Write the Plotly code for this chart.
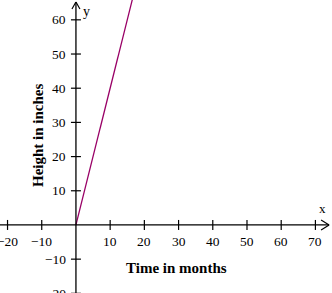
import plotly.graph_objects as go

# Data
line_x = [0, 17]
line_y = [0, 68]
x_ticks = [-20, -10, 10, 20, 30, 40, 50, 60, 70]
y_ticks = [-20, -10, 10, 20, 30, 40, 50, 60]
x_title = "Time in months"
y_title = "Height in inches"

X_RANGE = [-22.2, 74.85]
Y_RANGE = [-19.9, 65.8]
X_END = 74.0
Y_END = 65.2
W, H = 332, 293
PX_Y = H / (Y_RANGE[1] - Y_RANGE[0])
SERIF = "Liberation Serif, Times New Roman, serif"

fig = go.Figure()
fig.add_trace(go.Scatter(x=line_x, y=line_y, mode="lines",
                         line=dict(color="#990066", width=1.3),
                         hoverinfo="skip", showlegend=False))

shapes = []
shapes.append(dict(type="line", xref="x", yref="y", x0=X_RANGE[0], x1=X_END, y0=0, y1=0,
                   line=dict(color="black", width=1.3)))
shapes.append(dict(type="line", xref="x", yref="y", x0=0, x1=0, y0=Y_RANGE[0], y1=Y_END,
                   line=dict(color="black", width=1.3)))
for dx0, dy0 in [(-8, 5), (-8, -5)]:
    shapes.append(dict(type="line", xref="x", yref="y", xsizemode="pixel", ysizemode="pixel",
                       xanchor=X_END, yanchor=0, x0=dx0, y0=dy0, x1=0, y1=0,
                       line=dict(color="black", width=1.2)))
for dx0, dy0 in [(-4, -7), (4, -7)]:
    shapes.append(dict(type="line", xref="x", yref="y", xsizemode="pixel", ysizemode="pixel",
                       xanchor=0, yanchor=Y_END, x0=dx0, y0=dy0, x1=0, y1=0,
                       line=dict(color="black", width=1.2)))

annotations = []
def fmt(v):
    return ("\u2212" + str(-v)) if v < 0 else str(v)

for t in x_ticks:
    shapes.append(dict(type="line", xref="x", yref="y", xsizemode="pixel", ysizemode="pixel",
                       xanchor=t, yanchor=0, x0=0, x1=0, y0=-5, y1=5,
                       line=dict(color="black", width=1.2)))
    annotations.append(dict(x=t, y=0, xref="x", yref="y", text=fmt(t), showarrow=False,
                            yshift=-17, font=dict(family=SERIF, size=13.5, color="black")))
for t in y_ticks:
    shapes.append(dict(type="line", xref="x", yref="y", xsizemode="pixel", ysizemode="pixel",
                       xanchor=0, yanchor=t, x0=-5, x1=5, y0=0, y1=0,
                       line=dict(color="black", width=1.2)))
    yy = max(t, Y_RANGE[0])
    annotations.append(dict(x=0, y=yy, xref="x", yref="y", text=fmt(t), showarrow=False,
                            xanchor="right", xshift=-8, yshift=(t - yy) * PX_Y,
                            font=dict(family=SERIF, size=13.5, color="black")))

annotations.append(dict(x=X_END, y=0, xref="x", yref="y", text="x", showarrow=False,
                        xshift=-7, yshift=16, font=dict(family=SERIF, size=13, color="black")))
annotations.append(dict(x=0, y=Y_END, xref="x", yref="y", text="y", showarrow=False,
                        xshift=11, yshift=-9, font=dict(family=SERIF, size=14, color="black")))
annotations.append(dict(x=29.4, y=0, xref="x", yref="y",
                        text="<b>" + x_title + "</b>", showarrow=False, yshift=-43,
                        font=dict(family=SERIF, size=15, color="black")))
annotations.append(dict(x=0, y=26.3, xref="x", yref="y", text="<b>" + y_title + "</b>",
                        showarrow=False, textangle=-90, xshift=-38,
                        font=dict(family=SERIF, size=15, color="black")))

fig.update_layout(
    width=W, height=H, margin=dict(l=0, r=0, t=0, b=0),
    paper_bgcolor="white", plot_bgcolor="white",
    xaxis=dict(range=X_RANGE, visible=False, fixedrange=True),
    yaxis=dict(range=Y_RANGE, visible=False, fixedrange=True),
    shapes=shapes, annotations=annotations, showlegend=False,
)
fig.write_html("out.html", config={"displayModeBar": False})
